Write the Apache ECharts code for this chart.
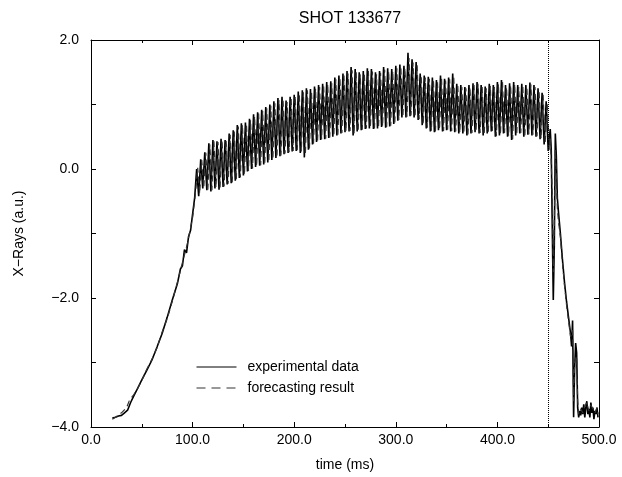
<!DOCTYPE html>
<html><head><meta charset="utf-8">
<script src="https://cdn.jsdelivr.net/npm/echarts@6/dist/echarts.min.js"></script>
<style>html,body{margin:0;padding:0;background:#fff}#c{width:622px;height:477px}</style>
</head><body><div id="c"></div><script>
const titleText = 'SHOT 133677';
const xName = 'time (ms)';
const yName = 'X\u2212Rays (a.u.)';
const seriesNames = ['experimental data', 'forecasting result'];
const disruptionTime = 450;

const expRise = [[21,-3.86],[24,-3.85],[27,-3.83],[30,-3.82],[33,-3.78],[36,-3.74],[39,-3.62],[42,-3.52],[45,-3.43],[50,-3.27],[55,-3.12],[60,-2.96],[65,-2.76],[70,-2.55],[75,-2.30],[80,-2.03],[85,-1.78],[88,-1.55],[90,-1.50],[92,-1.25],[94,-1.30],[96,-1.05],[98,-0.95],[100,-0.70],[102,-0.45]];
const expFlat = [
[104,0.00],[106,-0.42],[108,0.15],[110,-0.30],[112,0.26],[114,-0.33],[116,0.40],[118,-0.35],
[120,0.45],[122,-0.30],[124,0.43],[126,-0.32],[128,0.47],[130,-0.28],[132,0.45],[134,-0.24],
[136,0.55],[138,-0.22],[140,0.60],[142,-0.18],[144,0.68],[146,-0.14],[148,0.71],[150,-0.10],
[152,0.72],[154,-0.04],[156,0.78],[158,0.00],[160,0.85],[162,0.03],[164,0.88],[166,0.05],
[168,0.92],[170,0.07],[172,0.96],[174,0.10],[176,1.00],[178,0.14],[180,1.05],[182,0.17],
[184,1.10],[186,0.20],[188,1.12],[190,0.23],[192,1.06],[194,0.25],[196,1.12],[198,0.27],
[200,1.15],[202,0.28],[204,1.20],[206,0.25],[208,1.22],[210,0.18],[212,1.25],[214,0.30],
[216,1.24],[218,0.38],[220,1.28],[222,0.42],[224,1.30],[226,0.45],[228,1.32],[230,0.46],
[232,1.35],[234,0.48],[236,1.36],[238,0.50],[240,1.42],[242,0.52],[244,1.45],[246,0.55],
[248,1.48],[250,0.57],[252,1.52],[254,0.58],[256,1.58],[258,0.52],[260,1.55],[262,0.58],
[264,1.50],[266,0.60],[268,1.52],[270,0.62],[272,1.56],[274,0.63],[276,1.55],[278,0.62],
[280,1.50],[282,0.63],[284,1.52],[286,0.65],[288,1.58],[290,0.64],[292,1.56],[294,0.66],
[296,1.55],[298,0.70],[300,1.60],[302,0.75],[304,1.62],[306,0.80],[308,1.60],[310,0.80],
[312,1.80],[314,0.82],[316,1.70],[318,0.80],[320,1.66],[322,0.76],[324,1.48],[326,0.68],
[328,1.45],[330,0.63],[332,1.43],[334,0.58],[336,1.42],[338,0.57],[340,1.38],[342,0.60],
[344,1.45],[346,0.58],[348,1.40],[350,0.60],[352,1.42],[354,0.58],[356,1.48],[358,0.57],
[360,1.32],[362,0.55],[364,1.30],[366,0.55],[368,1.27],[370,0.52],[372,1.30],[374,0.55],
[376,1.33],[378,0.57],[380,1.35],[382,0.55],[384,1.30],[386,0.52],[388,1.28],[390,0.55],
[392,1.32],[394,0.58],[396,1.30],[398,0.50],[400,1.35],[402,0.52],[404,1.38],[406,0.55],
[408,1.30],[410,0.50],[412,1.33],[414,0.45],[416,1.35],[418,0.52],[420,1.30],[422,0.55],
[424,1.32],[426,0.50],[428,1.30],[430,0.53],[432,1.34],[434,0.52],[436,1.30],[438,0.50],
[440,1.25],[442,0.46],[444,1.18],[446,0.38],[448,1.05],[450,0.28]];
const expFall = [[452,0.62],[453,0.30],[454,-0.90],[455,-2.03],[456,-1.20],[457,0.55],[458,0.20],[459,-0.45],[460,-0.65],[462,-1.00],[464,-1.40],[466,-1.75],[468,-2.05],[470,-2.30],[472,-2.55],[473,-2.75],[474,-2.35],[475,-3.85],[476,-3.10],[477,-2.70],[478,-2.85],[479,-3.70],[480,-3.85],[481,-3.75],[482,-3.82],[483,-3.70],[484,-3.80],[485,-3.65],[486,-3.85],[487,-3.70],[488,-3.60],[489,-3.80],[490,-3.72],[491,-3.85],[492,-3.62],[493,-3.78],[494,-3.70],[495,-3.88],[496,-3.75],[497,-3.80],[498,-3.70],[499,-3.85]];

const fcRise = [[21,-3.88],[25,-3.84],[30,-3.78],[35,-3.70],[38,-3.58],[42,-3.50],[46,-3.40],[50,-3.28],[55,-3.10],[60,-2.95],[65,-2.77],[70,-2.53],[75,-2.32],[80,-2.05],[85,-1.76],[90,-1.45],[95,-1.15],[100,-0.75],[103,-0.35]];
const fcFlat = [
[105,0.02],[107,-0.38],[109,0.14],[111,-0.29],[113,0.25],[115,-0.32],[117,0.38],[119,-0.33],
[121,0.43],[123,-0.29],[125,0.42],[127,-0.30],[129,0.45],[131,-0.27],[133,0.44],[135,-0.23],
[137,0.53],[139,-0.21],[141,0.58],[143,-0.17],[145,0.66],[147,-0.13],[149,0.69],[151,-0.09],
[153,0.70],[155,-0.03],[157,0.76],[159,0.01],[161,0.82],[163,0.04],[165,0.86],[167,0.06],
[169,0.90],[171,0.08],[173,0.94],[175,0.11],[177,0.98],[179,0.15],[181,1.02],[183,0.18],
[185,1.07],[187,0.21],[189,1.09],[191,0.24],[193,1.04],[195,0.26],[197,1.10],[199,0.28],
[201,1.13],[203,0.29],[205,1.17],[207,0.27],[209,1.19],[211,0.22],[213,1.22],[215,0.32],
[217,1.21],[219,0.39],[221,1.25],[223,0.43],[225,1.27],[227,0.46],[229,1.29],[231,0.47],
[233,1.32],[235,0.49],[237,1.33],[239,0.51],[241,1.39],[243,0.53],[245,1.42],[247,0.56],
[249,1.45],[251,0.58],[253,1.48],[255,0.59],[257,1.53],[259,0.54],[261,1.51],[263,0.59],
[265,1.47],[267,0.61],[269,1.49],[271,0.63],[273,1.52],[275,0.64],[277,1.51],[279,0.63],
[281,1.47],[283,0.64],[285,1.49],[287,0.66],[289,1.54],[291,0.65],[293,1.52],[295,0.67],
[297,1.52],[299,0.71],[301,1.56],[303,0.76],[305,1.58],[307,0.81],[309,1.56],[311,0.81],
[313,1.72],[315,0.83],[317,1.65],[319,0.81],[321,1.61],[323,0.77],[325,1.45],[327,0.69],
[329,1.42],[331,0.64],[333,1.40],[335,0.59],[337,1.39],[339,0.58],[341,1.35],[343,0.61],
[345,1.41],[347,0.59],[349,1.37],[351,0.61],[353,1.39],[355,0.59],[357,1.44],[359,0.58],
[361,1.29],[363,0.56],[365,1.27],[367,0.56],[369,1.25],[371,0.53],[373,1.27],[375,0.56],
[377,1.30],[379,0.58],[381,1.32],[383,0.56],[385,1.27],[387,0.53],[389,1.25],[391,0.56],
[393,1.29],[395,0.59],[397,1.27],[399,0.51],[401,1.32],[403,0.53],[405,1.35],[407,0.56],
[409,1.27],[411,0.51],[413,1.30],[415,0.46],[417,1.32],[419,0.53],[421,1.27],[423,0.56],
[425,1.29],[427,0.51],[429,1.27],[431,0.54],[433,1.31],[435,0.53],[437,1.27],[439,0.51],
[441,1.22],[443,0.47],[445,1.15],[447,0.40],[449,1.02],[451,0.30]];
const fcFall = [[452,0.50],[453,0.10],[454,-0.40],[455,-1.60],[456,-0.90],[457,0.30],[458,-0.10],[459,-0.60],[460,-0.80],[462,-1.05],[464,-1.45],[466,-1.80],[468,-2.10],[470,-2.35],[472,-2.60],[474,-2.50],[475,-3.60],[476,-3.00],[478,-2.90],[479,-3.60],[480,-3.80],[482,-3.72],[484,-3.78],[486,-3.68],[488,-3.62],[490,-3.75],[492,-3.66],[494,-3.72],[496,-3.78],[498,-3.70],[499,-3.80]];

const FONT = 'Liberation Sans, Arial, sans-serif';
const fmt = v => v.toFixed(1).replace('-', '\u2212');
const tickStyle = {color:'#000', width:1};
function xAx(pos, labels){
  return {type:'value', min:0, max:500, interval:100, position:pos,
    axisLine:{show:true, onZero:false, lineStyle:{color:'#000', width:1}},
    axisTick:{show:true, inside:true, length:5, lineStyle:tickStyle},
    minorTick:{show:true, splitNumber:2, length:3, lineStyle:tickStyle},
    splitLine:{show:false},
    axisLabel:{show:labels, formatter:fmt, color:'#000', fontSize:14, fontFamily:FONT, margin:6},
    name: labels ? xName : '', nameLocation:'middle', nameGap:31,
    nameTextStyle:{color:'#000', fontSize:14, fontFamily:FONT}};
}
function yAx(pos, labels){
  return {type:'value', min:-4, max:2, interval:2, position:pos,
    axisLine:{show:true, onZero:false, lineStyle:{color:'#000', width:1}},
    axisTick:{show:true, inside:true, length:5, lineStyle:tickStyle},
    minorTick:{show:true, splitNumber:2, length:5, lineStyle:tickStyle},
    splitLine:{show:false},
    axisLabel:{show:labels, formatter:fmt, color:'#000', fontSize:14, fontFamily:FONT, margin:12},
    name: labels ? yName : '', nameLocation:'middle', nameGap:65, nameRotate:90,
    nameTextStyle:{color:'#000', fontSize:14, fontFamily:FONT}};
}

const chart = echarts.init(document.getElementById('c'), null, {renderer:'canvas'});
chart.setOption({
  animation:false,
  backgroundColor:'#fff',
  title:{text:titleText, left:345, textAlign:'center', top:6,
    textStyle:{color:'#000', fontSize:16, fontWeight:'normal', fontFamily:FONT}},
  grid:{left:91, right:23, top:40, bottom:50, containLabel:false},
  legend:{orient:'vertical', left:191, top:355, itemWidth:40, itemHeight:14, itemGap:7,
    itemStyle:{opacity:0},
    textStyle:{color:'#000', fontSize:14, fontFamily:FONT, padding:[0,0,0,6]},
    data:[
      {name:seriesNames[0], lineStyle:{width:1, color:'#000', type:'solid'}},
      {name:seriesNames[1], lineStyle:{width:1, color:'#333', type:[9,6]}}
    ]},
  xAxis:[xAx('bottom', true), xAx('top', false)],
  yAxis:[yAx('left', true), yAx('right', false)],
  series:[
    {name:seriesNames[0], type:'line', symbol:'none', data:expRise.concat(expFlat, expFall),
     lineStyle:{color:'#000', width:1.6}, itemStyle:{color:'#000'},
     markLine:{silent:true, symbol:'none', label:{show:false},
       lineStyle:{color:'#000', type:'dotted', width:1},
       data:[{xAxis:disruptionTime}]}},
    {name:seriesNames[1], type:'line', symbol:'none', data:fcRise.concat(fcFlat, fcFall),
     lineStyle:{color:'#333', width:1.2, type:[6,4]}, itemStyle:{color:'#333'}}
  ]
});
</script></body></html>
